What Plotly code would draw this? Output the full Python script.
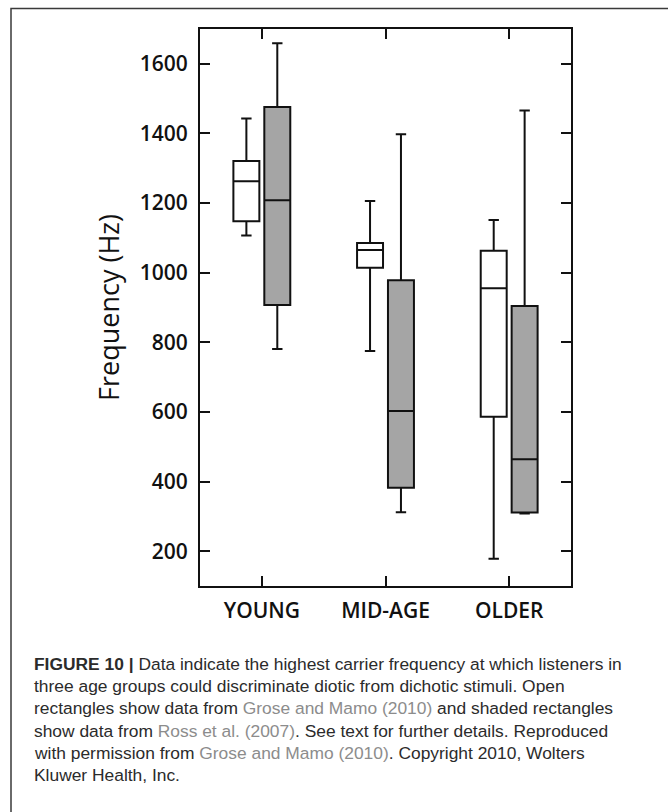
import plotly.graph_objects as go

# ---- data ----
groups = ["YOUNG", "MID-AGE", "OLDER"]

# Open rectangles: Grose and Mamo (2010)
open_lower = [1107, 775, 178]
open_q1 = [1148, 1014, 586]
open_median = [1263, 1065, 955]
open_q3 = [1321, 1085, 1063]
open_upper = [1443, 1206, 1151]

# Shaded rectangles: Ross et al. (2007)
shaded_lower = [781, 312, 308]
shaded_q1 = [907, 382, 311]
shaded_median = [1208, 603, 464]
shaded_q3 = [1476, 978, 904]
shaded_upper = [1659, 1398, 1466]

y_ticks = [200, 400, 600, 800, 1000, 1200, 1400, 1600]

LINK = "<span style='color:#8c8c8c'>%s</span>"
caption_lines = [
    "<b>FIGURE 10 |</b> Data indicate the highest carrier frequency at which listeners in",
    "three age groups could discriminate diotic from dichotic stimuli. Open",
    "rectangles show data from " + LINK % "Grose and Mamo (2010)" + " and shaded rectangles",
    "show data from " + LINK % "Ross et al. (2007)" + ". See text for further details. Reproduced",
    "with permission from " + LINK % "Grose and Mamo (2010)" + ". Copyright 2010, Wolters",
    "Kluwer Health, Inc.",
]

W, H = 668, 812
L, R, T, B = 200, 571, 29, 586

fig = go.Figure()
fig.add_trace(go.Box(
    x=groups, q1=open_q1, median=open_median, q3=open_q3,
    lowerfence=open_lower, upperfence=open_upper,
    fillcolor="white", line=dict(color="#111111", width=2),
    whiskerwidth=0.4, boxpoints=False, name="Grose and Mamo (2010)",
))
fig.add_trace(go.Box(
    x=groups, q1=shaded_q1, median=shaded_median, q3=shaded_q3,
    lowerfence=shaded_lower, upperfence=shaded_upper,
    fillcolor="#a5a5a5", line=dict(color="#111111", width=2),
    whiskerwidth=0.4, boxpoints=False, name="Ross et al. (2007)",
))

tickfont = dict(family="Open Sans", size=21, color="#111111", weight=600)

fig.update_layout(
    width=W, height=H,
    margin=dict(l=L, r=W - R, t=T, b=H - B, pad=0),
    paper_bgcolor="white", plot_bgcolor="white",
    showlegend=False,
    boxmode="group", boxgap=0.5, boxgroupgap=0.16,
    xaxis=dict(
        showline=True, linecolor="#111111", linewidth=2, mirror="ticks",
        ticks="inside", ticklen=10, tickwidth=2, tickcolor="#111111",
        tickfont=tickfont, ticklabelstandoff=5,
        showgrid=False, zeroline=False, range=[-0.5, 2.5],
    ),
    yaxis=dict(
        range=[100, 1700], tickvals=y_ticks,
        showline=True, linecolor="#111111", linewidth=2, mirror="ticks",
        ticks="inside", ticklen=10, tickwidth=2, tickcolor="#111111",
        tickfont=tickfont, ticklabelstandoff=6,
        showgrid=False, zeroline=False,
        title=dict(text="Frequency (Hz)", standoff=12,
                   font=dict(family="Open Sans", size=27, color="#111111", weight=500)),
    ),
)

def px_x(p):
    return (p - L) / (R - L)

def px_y(p):
    return (B - p) / (B - T)

# outer frame
fig.add_shape(type="rect", xref="paper", yref="paper",
              x0=px_x(11), x1=px_x(700), y0=px_y(830), y1=px_y(8.5),
              line=dict(color="#3a3a3a", width=1.5), fillcolor="rgba(0,0,0,0)", layer="above")

line_y = [664, 686.2, 708.4, 730.6, 752.8, 775]
for txt, yy in zip(caption_lines, line_y):
    fig.add_annotation(
        xref="paper", yref="paper", x=px_x(32), y=px_y(yy),
        xanchor="left", yanchor="middle", align="left", showarrow=False,
        text=txt,
        font=dict(family="Liberation Sans", size=17.4, color="#2b2b2b"),
    )

fig.write_html("out.html")
